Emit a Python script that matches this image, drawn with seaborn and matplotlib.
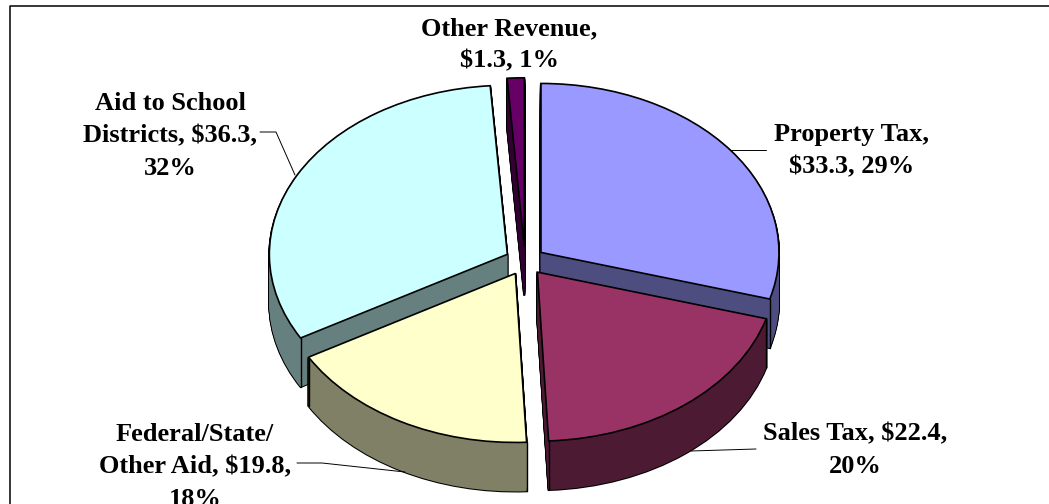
import matplotlib
matplotlib.use("Agg")
import numpy as np
import seaborn as sns
import matplotlib.pyplot as plt
from matplotlib.lines import Line2D

# Revenue by source ($ billions), clockwise from 12 o'clock
sources = ['Property Tax', 'Sales Tax', 'Federal/State/Other Aid', 'Aid to School Districts', 'Other Revenue']
amounts = [33.3, 22.4, 19.8, 36.3, 1.3]
top_colors = ['#9999FF', '#993366', '#FFFFCC', '#CCFFFF', '#660066']
side_colors = ['#4D4D80', '#4D1A33', '#808066', '#668080', '#330033']
draw_rank = [1, 2, 2, 1, 0]

label_text = ['Property Tax,\n$33.3, 29%', 'Sales Tax, $22.4,\n20%', 'Federal/State/\nOther Aid, $19.8,\n18%',
              'Aid to School\nDistricts, $36.3,\n32%', 'Other Revenue,\n$1.3, 1%']
label_x = [852, 855, 195, 170, 509]
label_y = [151, 450, 467, 136, 45]

# leader lines in pixels
leaders = [[(731, 150), (766, 150)],
           [(691, 451), (756, 449)],
           [(297, 463), (322, 463), (405, 472)],
           [(260, 132), (276, 132), (295, 175)]]

W, H = 1049, 504
cx, cy = 525, 261
rx, ry = 238, 169
depth = 49

sns.set_theme(style="white")
plt.rcParams['font.family'] = ['Liberation Serif', 'DejaVu Serif']

fig = plt.figure(figsize=(W / 100, H / 100), dpi=100)
ax = fig.add_axes([0, 0, 1, 1])


def to_data(px, py):
    return (px - cx) / rx, (cy - py) / ry


explode = [20 / rx] * len(amounts)
palette_side = sns.color_palette(side_colors)
palette_top = sns.color_palette(top_colors)


def draw_layer(colors, offset, z, edge, lw):
    wedges, _ = ax.pie(amounts, explode=explode, colors=colors, radius=1, startangle=90,
                       counterclock=False, center=(0, -offset),
                       wedgeprops=dict(edgecolor=edge, linewidth=lw))
    for w, r in zip(wedges, draw_rank):
        w.set_zorder(r * 10 + z)
    return wedges


# extruded side: outline first, then fill over it, then the top face
for d in np.arange(depth, 0, -1):
    draw_layer(palette_side, d / ry, 1, 'black', 1.5)
for d in np.arange(depth, 0, -1):
    draw_layer(palette_side, d / ry, 2, 'none', 0)
top = draw_layer(palette_top, 0, 4, 'black', 1.2)

# vertical edges at the front corners of each slice
for w, r in zip(top, draw_rank):
    for t in [w.theta1, w.theta2]:
        a = np.deg2rad(t)
        if np.sin(a) < 0:
            x = w.center[0] + np.cos(a)
            y = w.center[1] + np.sin(a)
            ax.plot([x, x], [y, y - depth / ry], color='black', lw=1.0, zorder=r * 10 + 3)

ax.set_aspect('auto')
ax.set_xlim(to_data(0, 0)[0], to_data(W, 0)[0])
ax.set_ylim(to_data(0, H)[1], to_data(0, 0)[1])
ax.set_axis_off()

for pts in leaders:
    xy = np.array([to_data(*p) for p in pts])
    ax.plot(xy[:, 0], xy[:, 1], color='black', lw=0.7, zorder=40)

for txt, lx, ly in zip(label_text, label_x, label_y):
    x, y = to_data(lx, ly)
    ax.text(x, y, txt, ha='center', va='center', fontsize=19, fontweight='bold',
            color='black', linespacing=1.53, zorder=50)

# chart frame, only top and left are inside the picture
x0, y0 = 9.5 / W, 1 - 5.5 / H
fig.add_artist(Line2D([x0, x0, 1], [0, y0, y0], transform=fig.transFigure, color='black', lw=1.1))

fig.savefig("out.png", dpi=100)
